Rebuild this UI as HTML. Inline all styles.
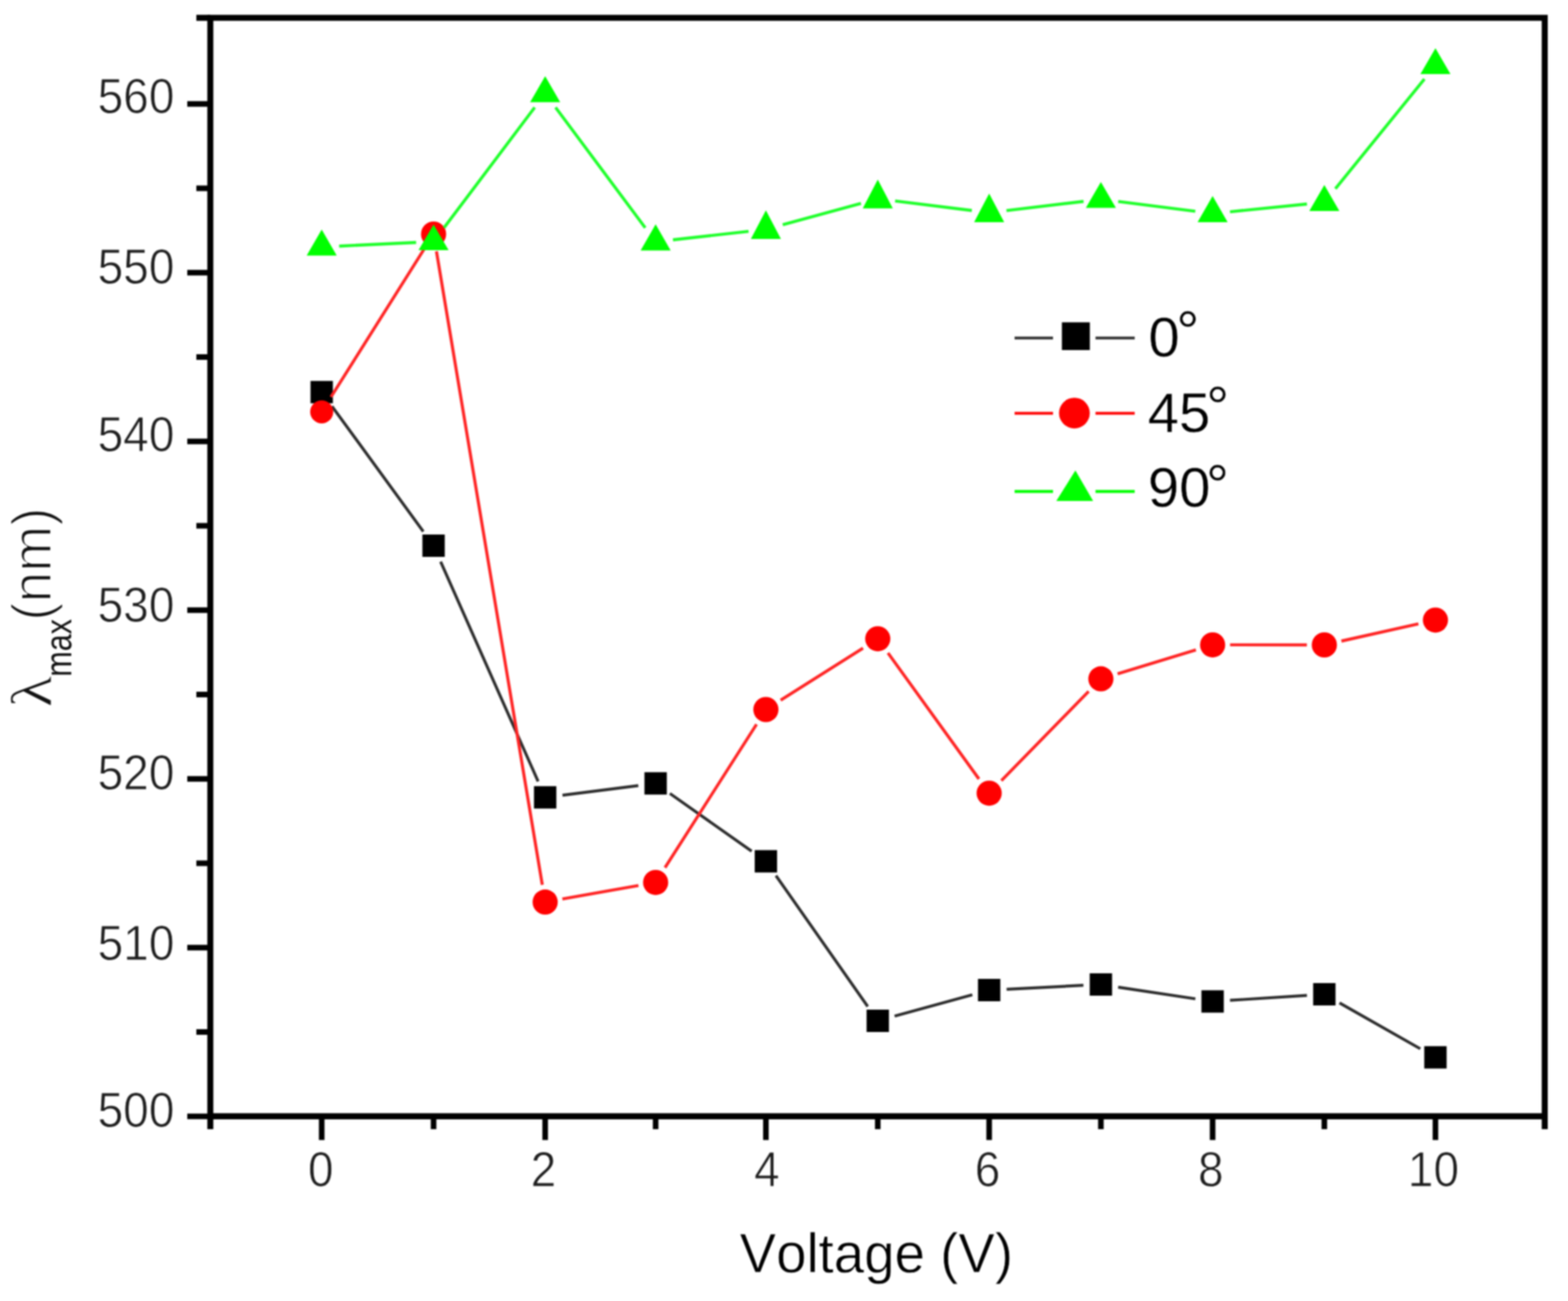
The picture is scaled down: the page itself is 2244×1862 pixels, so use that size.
<!DOCTYPE html>
<html><head><meta charset="utf-8"><title>lambda max vs voltage</title>
<style>html,body{margin:0;padding:0;background:#fff;}body{width:2244px;height:1862px;overflow:hidden;}svg{display:block;}#w{filter:blur(1px);}text{font-family:"Liberation Sans",Arial,sans-serif;font-kerning:none;}</style></head><body>
<div id="w"><svg width="2244" height="1862" viewBox="0 0 2244 1862">
<rect x="0" y="0" width="2244" height="1862" fill="#fff"/>
<path d="M475.1 581.4L605.8 760.8M630.6 803.9L770.1 1118.3M805.0 1138.1L913.5 1124.3M958.7 1135.6L1075.7 1218.3M1110.5 1253.2L1241.8 1440.5M1280.3 1454.3L1391.5 1423.7M1440.6 1415.8L1550.5 1410.2M1600.2 1412.8L1710.7 1429.5M1760.3 1431.7L1870.4 1424.6M1917.0 1435.3L2032.6 1501.0" stroke="#2c2c2c" stroke-width="4.2" fill="none" stroke-linecap="butt"/>
<rect x="444.4" y="545.2" width="32.0" height="32.0" fill="#000"/>
<rect x="604.5" y="765.0" width="32.0" height="32.0" fill="#000"/>
<rect x="764.2" y="1125.2" width="32.0" height="32.0" fill="#000"/>
<rect x="922.3" y="1105.2" width="32.0" height="32.0" fill="#000"/>
<rect x="1080.1" y="1216.7" width="32.0" height="32.0" fill="#000"/>
<rect x="1240.2" y="1445.0" width="32.0" height="32.0" fill="#000"/>
<rect x="1399.6" y="1401.0" width="32.0" height="32.0" fill="#000"/>
<rect x="1559.5" y="1393.0" width="32.0" height="32.0" fill="#000"/>
<rect x="1719.4" y="1417.3" width="32.0" height="32.0" fill="#000"/>
<rect x="1879.3" y="1407.0" width="32.0" height="32.0" fill="#000"/>
<rect x="2038.3" y="1497.3" width="32.0" height="32.0" fill="#000"/>
<path d="M473.7 568.2L607.2 356.2M624.6 359.7L776.1 1266.4M804.8 1286.7L913.7 1267.3M951.7 1241.8L1082.7 1036.6M1117.2 1002.1L1235.1 927.6M1270.8 934.5L1401.0 1114.9M1433.1 1117.3L1558.0 989.5M1599.4 964.3L1711.5 930.2M1760.4 922.9L1870.3 923.0M1919.7 917.5L2029.9 892.9" stroke="#ff2424" stroke-width="4.4" fill="none" stroke-linecap="butt"/>
<circle cx="460.4" cy="589.4" r="16.5" fill="#ff0000"/>
<circle cx="620.5" cy="335.0" r="18.0" fill="#ff0000"/>
<circle cx="780.2" cy="1291.1" r="18.0" fill="#ff0000"/>
<circle cx="938.3" cy="1262.9" r="18.0" fill="#ff0000"/>
<circle cx="1096.1" cy="1015.5" r="18.0" fill="#ff0000"/>
<circle cx="1256.2" cy="914.2" r="18.0" fill="#ff0000"/>
<circle cx="1415.6" cy="1135.2" r="18.0" fill="#ff0000"/>
<circle cx="1575.5" cy="971.6" r="18.0" fill="#ff0000"/>
<circle cx="1735.4" cy="922.9" r="18.0" fill="#ff0000"/>
<circle cx="1895.3" cy="923.0" r="18.0" fill="#ff0000"/>
<circle cx="2054.3" cy="887.4" r="18.0" fill="#ff0000"/>
<path d="M485.4 352.2L595.5 347.0M635.5 325.9L765.2 153.8M795.1 153.8L923.4 326.0M963.1 343.2L1071.3 331.1M1120.2 321.7L1232.1 291.1M1281.0 287.6L1390.8 301.3M1440.4 301.4L1550.7 288.2M1600.3 288.4L1710.6 302.4M1760.3 303.1L1870.4 292.0M1911.1 270.1L2038.5 113.1" stroke="#1eff2a" stroke-width="4.4" fill="none" stroke-linecap="butt"/>
<path d="M460.4 328.6L481.9 365.7L438.9 365.7Z" fill="#00ff00"/>
<path d="M620.5 321.4L642.0 358.1L599.0 358.1Z" fill="#00ff00"/>
<path d="M780.2 109.0L801.7 146.2L758.7 146.2Z" fill="#00ff00"/>
<path d="M938.3 321.1L959.8 358.5L916.8 358.5Z" fill="#00ff00"/>
<path d="M1096.1 301.0L1117.6 341.9L1074.6 341.9Z" fill="#00ff00"/>
<path d="M1256.2 257.0L1277.7 298.3L1234.7 298.3Z" fill="#00ff00"/>
<path d="M1415.6 277.1L1437.1 318.1L1394.1 318.1Z" fill="#00ff00"/>
<path d="M1575.5 260.6L1597.0 297.5L1554.0 297.5Z" fill="#00ff00"/>
<path d="M1735.4 280.6L1756.9 318.1L1713.9 318.1Z" fill="#00ff00"/>
<path d="M1895.3 264.8L1916.8 301.9L1873.8 301.9Z" fill="#00ff00"/>
<path d="M2054.3 68.9L2075.8 106.1L2032.8 106.1Z" fill="#00ff00"/>
<g stroke="#000" stroke-linecap="butt" fill="none">
<path d="M301.0 25.5H2210.7V1597.6H301.0Z" stroke-width="8.6" stroke-linejoin="miter"/>
<line x1="301.0" y1="1597.6" x2="301.0" y2="1616.1" stroke-width="8.6"/>
<line x1="460.4" y1="1597.6" x2="460.4" y2="1631.6" stroke-width="8.0"/>
<line x1="620.5" y1="1597.6" x2="620.5" y2="1616.1" stroke-width="8.0"/>
<line x1="780.2" y1="1597.6" x2="780.2" y2="1631.6" stroke-width="8.0"/>
<line x1="938.3" y1="1597.6" x2="938.3" y2="1616.1" stroke-width="8.0"/>
<line x1="1096.1" y1="1597.6" x2="1096.1" y2="1631.6" stroke-width="8.0"/>
<line x1="1256.2" y1="1597.6" x2="1256.2" y2="1616.1" stroke-width="8.0"/>
<line x1="1415.6" y1="1597.6" x2="1415.6" y2="1631.6" stroke-width="8.0"/>
<line x1="1575.5" y1="1597.6" x2="1575.5" y2="1616.1" stroke-width="8.0"/>
<line x1="1735.4" y1="1597.6" x2="1735.4" y2="1631.6" stroke-width="8.0"/>
<line x1="1895.3" y1="1597.6" x2="1895.3" y2="1616.1" stroke-width="8.0"/>
<line x1="2054.3" y1="1597.6" x2="2054.3" y2="1631.6" stroke-width="8.0"/>
<line x1="2210.7" y1="1597.6" x2="2210.7" y2="1616.1" stroke-width="8.6"/>
<line x1="301.0" y1="1597.7" x2="268.0" y2="1597.7" stroke-width="8.0"/>
<line x1="301.0" y1="1477.0" x2="281.0" y2="1477.0" stroke-width="8.0"/>
<line x1="301.0" y1="1356.2" x2="268.0" y2="1356.2" stroke-width="8.0"/>
<line x1="301.0" y1="1235.5" x2="281.0" y2="1235.5" stroke-width="8.0"/>
<line x1="301.0" y1="1114.7" x2="268.0" y2="1114.7" stroke-width="8.0"/>
<line x1="301.0" y1="994.0" x2="281.0" y2="994.0" stroke-width="8.0"/>
<line x1="301.0" y1="873.2" x2="268.0" y2="873.2" stroke-width="8.0"/>
<line x1="301.0" y1="752.5" x2="281.0" y2="752.5" stroke-width="8.0"/>
<line x1="301.0" y1="631.7" x2="268.0" y2="631.7" stroke-width="8.0"/>
<line x1="301.0" y1="511.0" x2="281.0" y2="511.0" stroke-width="8.0"/>
<line x1="301.0" y1="390.2" x2="268.0" y2="390.2" stroke-width="8.0"/>
<line x1="301.0" y1="269.5" x2="281.0" y2="269.5" stroke-width="8.0"/>
<line x1="301.0" y1="148.7" x2="268.0" y2="148.7" stroke-width="8.0"/>
<line x1="301.0" y1="25.5" x2="281.0" y2="25.5" stroke-width="8.6"/>
</g>
<g transform="translate(249.5 1613.4) scale(0.930 1)"><text x="0" y="0" font-size="70.8" fill="#1e1e1e" text-anchor="end" stroke="#fff" stroke-width="1.00" stroke-linejoin="round">500</text></g>
<g transform="translate(249.5 1374.0) scale(0.930 1)"><text x="0" y="0" font-size="70.8" fill="#1e1e1e" text-anchor="end" stroke="#fff" stroke-width="1.00" stroke-linejoin="round">510</text></g>
<g transform="translate(249.5 1130.0) scale(0.930 1)"><text x="0" y="0" font-size="70.8" fill="#1e1e1e" text-anchor="end" stroke="#fff" stroke-width="1.00" stroke-linejoin="round">520</text></g>
<g transform="translate(249.5 890.0) scale(0.930 1)"><text x="0" y="0" font-size="70.8" fill="#1e1e1e" text-anchor="end" stroke="#fff" stroke-width="1.00" stroke-linejoin="round">530</text></g>
<g transform="translate(249.5 646.0) scale(0.930 1)"><text x="0" y="0" font-size="70.8" fill="#1e1e1e" text-anchor="end" stroke="#fff" stroke-width="1.00" stroke-linejoin="round">540</text></g>
<g transform="translate(249.5 406.3) scale(0.930 1)"><text x="0" y="0" font-size="70.8" fill="#1e1e1e" text-anchor="end" stroke="#fff" stroke-width="1.00" stroke-linejoin="round">550</text></g>
<g transform="translate(249.5 162.4) scale(0.930 1)"><text x="0" y="0" font-size="70.8" fill="#1e1e1e" text-anchor="end" stroke="#fff" stroke-width="1.00" stroke-linejoin="round">560</text></g>
<g transform="translate(459.15 1698.2) scale(0.930 1)"><text x="0" y="0" font-size="70.8" fill="#1e1e1e" text-anchor="middle" stroke="#fff" stroke-width="1.00" stroke-linejoin="round">0</text></g>
<g transform="translate(777.75 1698.2) scale(0.930 1)"><text x="0" y="0" font-size="70.8" fill="#1e1e1e" text-anchor="middle" stroke="#fff" stroke-width="1.00" stroke-linejoin="round">2</text></g>
<g transform="translate(1097.60 1698.2) scale(0.930 1)"><text x="0" y="0" font-size="70.8" fill="#1e1e1e" text-anchor="middle" stroke="#fff" stroke-width="1.00" stroke-linejoin="round">4</text></g>
<g transform="translate(1413.30 1698.2) scale(0.930 1)"><text x="0" y="0" font-size="70.8" fill="#1e1e1e" text-anchor="middle" stroke="#fff" stroke-width="1.00" stroke-linejoin="round">6</text></g>
<g transform="translate(1732.75 1698.2) scale(0.930 1)"><text x="0" y="0" font-size="70.8" fill="#1e1e1e" text-anchor="middle" stroke="#fff" stroke-width="1.00" stroke-linejoin="round">8</text></g>
<g transform="translate(2051.45 1698.2) scale(0.930 1)"><text x="0" y="0" font-size="70.8" fill="#1e1e1e" text-anchor="middle" stroke="#fff" stroke-width="1.00" stroke-linejoin="round">10</text></g>
<g transform="translate(1058.5 1821.3) scale(0.99 1)"><text x="0" y="0" font-size="79" fill="#000" stroke="#fff" stroke-width="0.80" stroke-linejoin="round">Voltage (V)</text></g>
<g transform="translate(73.2 1011) rotate(-90)">
<g transform="scale(1.127 1)"><text x="-1.15" y="0" font-size="82.7" fill="#111" style="font-family:'Liberation Serif',serif" stroke="#fff" stroke-width="1.20" stroke-linejoin="round">&#955;</text></g>
<text x="42.6" y="29" font-size="54" fill="#111" textLength="82.5" lengthAdjust="spacingAndGlyphs">max</text>
<text x="122.5" y="0" font-size="79" fill="#111" stroke="#fff" stroke-width="2.20" stroke-linejoin="round">(nm)</text>
</g>
<path d="M1452 483.7H1507M1567.8 483.7H1623.9" stroke="#303030" stroke-width="4"/>
<rect x="1519.7" y="461.3" width="40" height="39.7" fill="#000"/>
<path d="M1452 591.5H1507M1567.8 591.5H1623.9" stroke="#ff0000" stroke-width="4.2"/>
<circle cx="1537.6" cy="591.2" r="22" fill="#ff0000"/>
<path d="M1452 703.4H1507M1567.8 703.4H1623.9" stroke="#00ff00" stroke-width="4.2"/>
<path d="M1539 673.2L1564.4 717.1L1511.7 717.1Z" fill="#00ff00"/>
<text x="1643.6" y="509.6" font-size="80.5" fill="#000" stroke="#fff" stroke-width="0.50" stroke-linejoin="round">0<tspan font-size="82" dx="-5.0" dy="-7.5" stroke="#fff" stroke-width="0.40" stroke-linejoin="round">°</tspan></text>
<text x="1642.4" y="617.9" font-size="80.5" fill="#000" stroke="#fff" stroke-width="0.50" stroke-linejoin="round">45<tspan font-size="82" dx="-5.7" dy="-7.7" stroke="#fff" stroke-width="0.40" stroke-linejoin="round">°</tspan></text>
<text x="1642.7" y="725.2" font-size="80.5" fill="#000" stroke="#fff" stroke-width="0.50" stroke-linejoin="round">90<tspan font-size="82" dx="-6.3" dy="-3.7" stroke="#fff" stroke-width="0.40" stroke-linejoin="round">°</tspan></text>
</svg></div></body></html>
